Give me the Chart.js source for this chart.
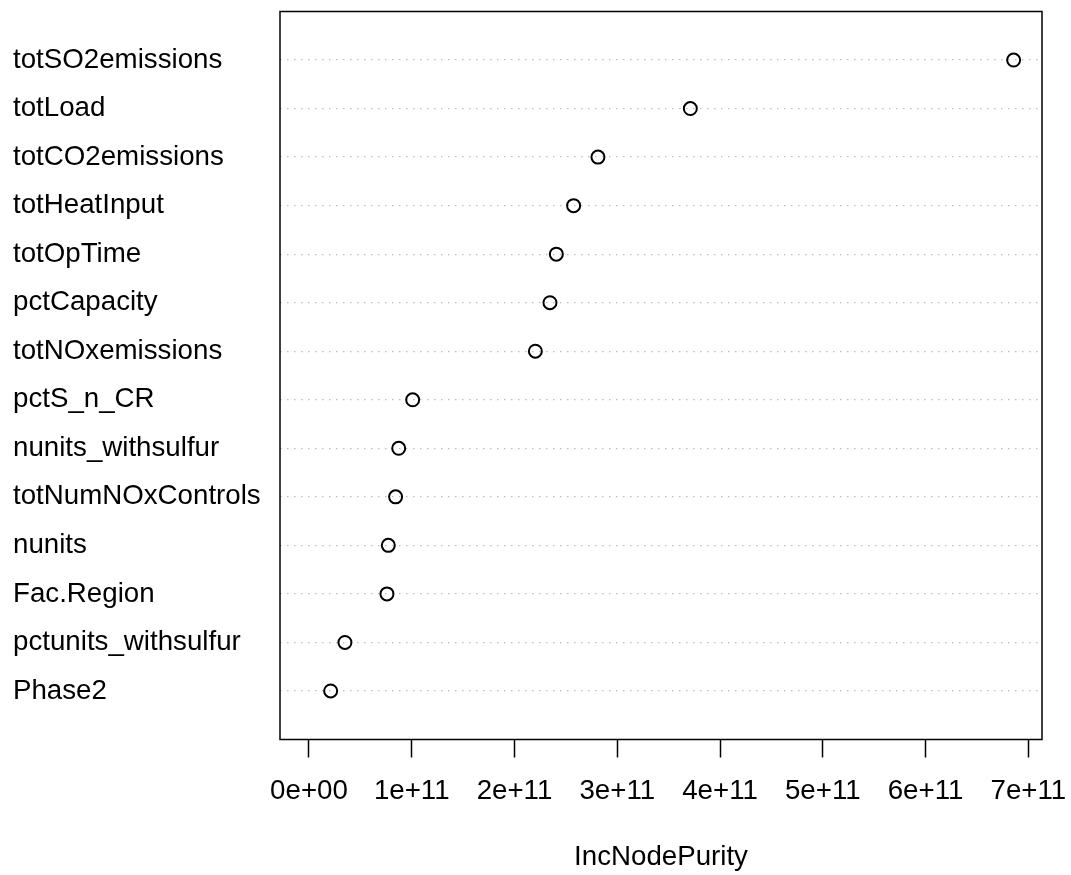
<!DOCTYPE html>
<html>
<head>
<meta charset="utf-8">
<script src="https://cdn.jsdelivr.net/npm/chart.js@4.4.1/dist/chart.umd.min.js"></script>
<style>
html,body{margin:0;padding:0;background:#fff;}
#wrap{width:1071px;height:875px;position:relative;}
</style>
</head>
<body>
<div id="wrap"><canvas id="c"></canvas></div>
<script>
// Variables, top to bottom as shown
const variables = ["totSO2emissions","totLoad","totCO2emissions","totHeatInput","totOpTime","pctCapacity","totNOxemissions","pctS_n_CR","nunits_withsulfur","totNumNOxControls","nunits","Fac.Region","pctunits_withsulfur","Phase2"];
// IncNodePurity values
const incNodePurity = [6.857e11,3.711e11,2.812e11,2.575e11,2.407e11,2.345e11,2.203e11,1.009e11,0.873e11,0.843e11,0.772e11,0.759e11,0.350e11,0.211e11];
const xTickValues = [0,1e11,2e11,3e11,4e11,5e11,6e11,7e11];
const xTickLabels = ["0e+00","1e+11","2e+11","3e+11","4e+11","5e+11","6e+11","7e+11"];
const xTitle = "IncNodePurity";

const n = variables.length;
const FONT = {family: "'Liberation Sans', Arial, Helvetica, sans-serif", size: 27.7};

const points = variables.map((v,i)=>({x: incNodePurity[i], y: n - i}));

const boxPlugin = {
  id: 'box',
  afterDatasetsDraw(chart){
    const {ctx, chartArea:a} = chart;
    ctx.save();
    ctx.strokeStyle = '#000';
    ctx.lineWidth = 1.5;
    ctx.strokeRect(a.left, a.top, a.right - a.left, a.bottom - a.top);
    ctx.restore();
  }
};

new Chart(document.getElementById('c'), {
  type: 'scatter',
  data: {
    datasets: [{
      data: points,
      pointStyle: 'circle',
      pointRadius: 6.5,
      pointBorderWidth: 2,
      borderColor: '#000',
      backgroundColor: 'rgba(0,0,0,0)',
      pointHoverRadius: 6.5
    }]
  },
  options: {
    responsive: true,
    maintainAspectRatio: false,
    animation: false,
    layout: {padding: {left: 13, right: 29, top: 11.5, bottom: 0}},
    plugins: {legend: {display: false}, tooltip: {enabled: false}},
    scales: {
      x: {
        type: 'linear',
        min: -2.82e10,
        max: 7.133e11,
        afterBuildTicks(scale){ scale.ticks = xTickValues.map(v=>({value: v})); },
        afterFit(scale){ scale.height = 135.5; scale.paddingLeft = 0; scale.paddingRight = 0; },
        border: {display: false},
        grid: {display: true, drawOnChartArea: false, drawTicks: true, tickLength: 18, tickColor: '#000', tickWidth: 1.5, color: '#000'},
        ticks: {
          color: '#000', font: FONT, padding: 17.5, maxRotation: 0, autoSkip: false,
          callback(value){ const k = xTickValues.indexOf(value); return k >= 0 ? xTickLabels[k] : ''; }
        },
        title: {display: true, text: xTitle, color: '#000', font: FONT, padding: {top: 0, bottom: 1}}
      },
      y: {
        type: 'linear',
        min: 0,
        max: n + 1,
        afterBuildTicks(scale){ scale.ticks = variables.map((v,i)=>({value: n - i})); },
        afterFit(scale){ scale.width = 267; scale.paddingTop = 0; scale.paddingBottom = 0; },
        border: {display: false, dash: [1.5, 5.5]},
        grid: {display: true, drawOnChartArea: true, drawTicks: false, color: '#bebebe', lineWidth: 1.2},
        ticks: {
          color: '#000', font: FONT, crossAlign: 'far', padding: 0, autoSkip: false,
          callback(value){ const i = n - value; return (i >= 0 && i < n) ? variables[i] : ''; }
        }
      }
    }
  },
  plugins: [boxPlugin]
});
</script>
</body>
</html>
